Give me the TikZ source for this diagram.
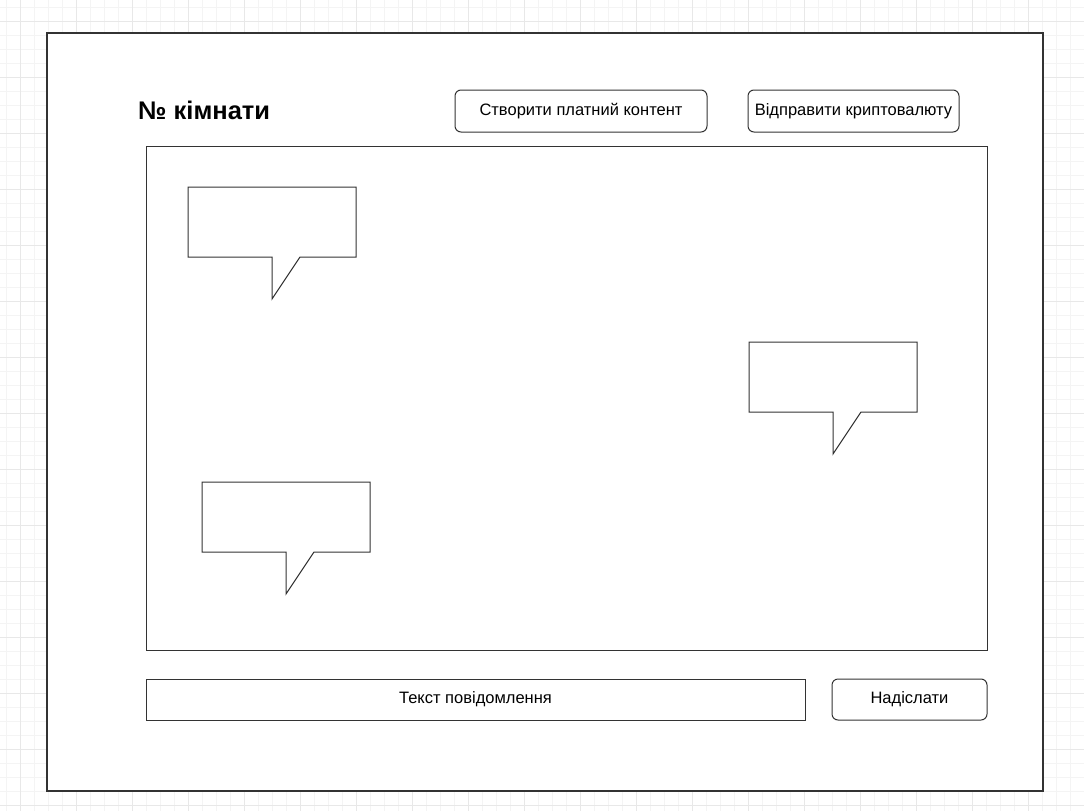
\documentclass[tikz,border=0pt]{standalone}
\usepackage{fontspec}
\setmainfont{Liberation Sans}
\definecolor{lineC}{HTML}{333333}
\definecolor{gridMaj}{HTML}{E8E8E8}
\definecolor{gridMin}{HTML}{F4F4F4}
\tikzset{
  x=1pt, y=-1pt,
  frame/.style={draw=lineC, line width=1.4pt, fill=white},
  box/.style={draw=lineC, line width=1pt, fill=white},
  lbl/.style={font=\fontsize{16.5}{19}\selectfont},
  btn/.style={draw=lineC, line width=1pt, fill=white, rounded corners=6pt, lbl},
  bubble/.pic={
    \draw[draw=lineC, line width=1pt, fill=white, line join=miter]
      (0,0) -- (168,0) -- (168,70) -- (112,70) -- (84,112) -- (84,70) -- (0,70) -- cycle;
  }
}
\begin{document}
\begin{tikzpicture}
\useasboundingbox (0,0) rectangle (1084,811);
\fill[white] (0,0) rectangle (1084,811);
% grid
\foreach \i in {-2,...,80} {
  \draw[gridMin, line width=0.6pt] ({20+14*\i},0) -- ({20+14*\i},811);
  \draw[gridMin, line width=0.6pt] (0,{21+14*\i}) -- (1084,{21+14*\i});
}
\foreach \i in {-1,...,20} {
  \draw[gridMaj, line width=0.8pt] ({20+56*\i},0) -- ({20+56*\i},811);
  \draw[gridMaj, line width=0.8pt] (0,{21+56*\i}) -- (1084,{21+56*\i});
}
% outer frame
\draw[frame] (47,33) rectangle (1043,791);
% title
\node[anchor=west, inner sep=0pt, font=\bfseries\fontsize{25.5}{29}\selectfont] (title) at (138,110) {№ кімнати};
% top buttons
\node[btn, minimum width=252pt, minimum height=42pt, inner sep=0pt] (paid) at (581,111) {Створити платний контент};
\node[btn, minimum width=211pt, minimum height=42pt, inner sep=0pt] (crypto) at (853.5,111) {Відправити криптовалюту};
% chat area
\draw[box] (146,146) rectangle (987,650);
% bubbles
\pic at (188,187) {bubble};
\pic at (749,342) {bubble};
\pic at (202,482) {bubble};
% input
\node[box, lbl, minimum width=659pt, minimum height=41pt, inner sep=0pt] (input) at (475.5,699.5) {Текст повідомлення};
\node[btn, minimum width=155pt, minimum height=41pt, inner sep=0pt] (send) at (909.5,699.5) {Надіслати};
\end{tikzpicture}
\end{document}
